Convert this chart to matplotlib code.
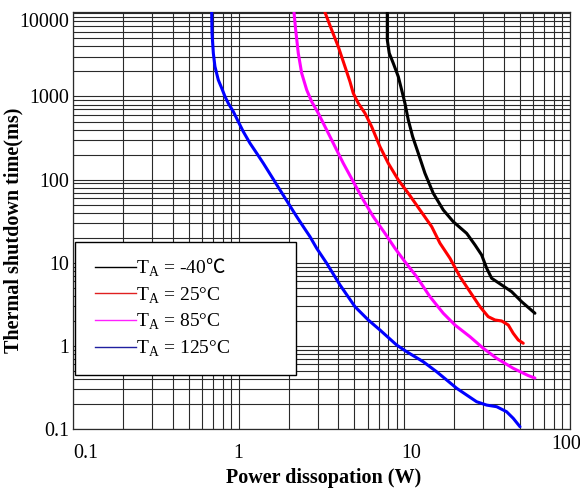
import numpy as np
import matplotlib
matplotlib.use("Agg")
import matplotlib.pyplot as plt
from matplotlib.patches import Rectangle
from matplotlib.transforms import ScaledTranslation

plt.rcParams['font.family'] = ['Liberation Serif', 'DejaVu Serif']
plt.rcParams['mathtext.fontset'] = 'custom'
plt.rcParams['mathtext.rm'] = 'Liberation Serif'
plt.rcParams['mathtext.sf'] = 'Noto Sans CJK JP'  # only used for the ℃ sign

# curves (power W, shutdown time ms)
p_m40 = [7.886, 7.886, 8.107, 8.57, 9.19, 9.63, 10.08, 10.56, 11.22, 12.13, 13.31, 14.94, 17.17,
         19.73, 23.77, 26.68, 29.27, 31.4, 33.65, 38.66, 44.4, 51.05, 61.4]
t_m40 = [10300, 4798, 3319, 2516, 1736, 1201, 830, 523, 329, 208, 119.4, 68.6, 43.2,
         31.2, 22.6, 16.4, 12.41, 8.59, 6.51, 5.41, 4.49, 3.40, 2.47]

p_25 = [3.317, 3.641, 3.99, 4.38, 4.695, 4.916, 5.271, 5.783, 6.346, 7.124, 7.995, 9.19, 10.56, 12.42,
        14.62, 16.4, 18.85, 21.66, 24.88, 28.6, 32.08, 35.23, 38.66, 42.4, 45.4, 48.7, 52.2]
t_25 = [10300, 6330, 3986, 2291, 1511, 1096, 830, 630, 434, 249.5, 157.5, 99.2, 68.6, 43.2,
        27.2, 17.2, 11.33, 6.80, 4.49, 2.96, 2.246, 2.05, 1.995, 1.784, 1.418, 1.178, 1.075]

p_85 = [2.157, 2.208, 2.289, 2.400, 2.573, 2.758, 3.022, 3.397, 3.813, 4.278, 4.916, 5.649, 6.49,
        7.636, 8.776, 10.08, 11.86, 14.27, 17.17, 20.2, 24.88, 29.94, 36.06, 45.4, 55.9, 61.4]
t_85 = [10300, 6330, 3319, 1907, 1201, 868, 630, 396, 249.5, 157.5, 94.6, 57.0, 35.9,
        22.6, 14.94, 10.3, 6.80, 3.91, 2.47, 1.784, 1.29, 0.936, 0.709, 0.5375, 0.44, 0.41]

p_125 = [0.687, 0.690, 0.703, 0.719, 0.753, 0.790, 0.827, 0.865, 0.928, 0.994, 1.066, 1.170, 1.284,
         1.408, 1.582, 1.775, 1.993, 2.239, 2.454, 2.694, 2.956, 3.397, 4.087, 5.035, 6.055, 7.124,
         8.98, 10.32, 13.0, 15.66, 18.0, 20.7, 23.8, 27.3, 31.4, 36.1, 41.4, 45.4, 49.9]
t_125 = [10300, 5777, 3319, 2291, 1585, 1259, 997, 830, 658, 499, 378, 274, 208,
         157.5, 108.6, 75.2, 52.0, 35.9, 27.2, 20.6, 14.94, 9.86, 5.41, 2.96, 2.05, 1.553,
         1.025, 0.852, 0.645, 0.489, 0.389, 0.309, 0.256, 0.213, 0.194, 0.1855, 0.1615, 0.1346, 0.1066]

labels = [r'T$_\mathrm{A}$ = -40$\mathsf{℃}$', r'T$_\mathrm{A}$ = 25°C',
          r'T$_\mathrm{A}$ = 85°C', r'T$_\mathrm{A}$ = 125°C']
colours = ['black', '#ff0000', '#ff00ff', '#0000ff']
legend_colours = ['black', '#e02020', '#ff20ff', '#2020a0']

x_ticks = [0.1, 1, 10, 100]
x_ticklabels = ['0.1', '1', '10', '100']
y_ticks = [0.1, 1, 10, 100, 1000, 10000]
y_ticklabels = ['0.1', '1', '10', '100', '1000', '10000']

fig = plt.figure(figsize=(5.8, 4.92), dpi=100)
ax = fig.add_axes([0.1259, 0.128, 0.8569, 0.847])
ax.set_xscale('log')
ax.set_yscale('log')
ax.set_xlim(0.1, 100)
ax.set_ylim(0.1, 10300)

ax.grid(True, which='both', color='#2a2a2a', lw=0.8)
ax.set_axisbelow(True)

series = [(p_m40, t_m40), (p_25, t_25), (p_85, t_85), (p_125, t_125)]
for (px, ty), c in zip(series, colours):
    ax.plot(px, ty, color=c, lw=2.2, zorder=3, solid_capstyle='round', solid_joinstyle='round')

ax.set_xticks(x_ticks)
ax.set_xticklabels(x_ticklabels)
ax.set_yticks(y_ticks)
ax.set_yticklabels(y_ticklabels)
ax.tick_params(which='both', length=0, labelsize=14.4)
ax.tick_params(axis='x', pad=11)
ax.tick_params(axis='y', pad=3)
for sp in ax.spines.values():
    sp.set_color('#2a2a2a')
    sp.set_linewidth(0.9)

# nudge a few tick labels like the original
xl = ax.get_xticklabels()
xl[0].set_horizontalalignment('left')
xl[2].set_transform(xl[2].get_transform() + ScaledTranslation(0.07, 0, fig.dpi_scale_trans))
xl[3].set_transform(xl[3].get_transform() + ScaledTranslation(-0.04, 0.09, fig.dpi_scale_trans))
yl = ax.get_yticklabels()
yl[-1].set_verticalalignment('top')

ax.set_xlabel('Power dissopation (W)', fontsize=14.5, fontweight='bold')
ax.set_ylabel('Thermal shutdown time(ms)', fontsize=14.5, fontweight='bold')
ax.xaxis.set_label_coords(0.505, -0.093)
ax.yaxis.set_label_coords(-0.10, 0.478)

# legend box
ax.add_patch(Rectangle((0.004, 0.1295), 0.445, 0.3185, transform=ax.transAxes,
                       facecolor='white', edgecolor='black', lw=1.0, zorder=4))
handles = [plt.Line2D([], [], color=c, lw=1.0) for c in legend_colours]
leg = ax.legend(handles, labels, loc='upper left', bbox_to_anchor=(0.044, 0.414),
                frameon=False, fontsize=14, handlelength=2.1, handletextpad=0.0,
                labelspacing=0.33, borderpad=0, borderaxespad=0)
leg.set_zorder(5)

fig.savefig('out.png', dpi=100)
